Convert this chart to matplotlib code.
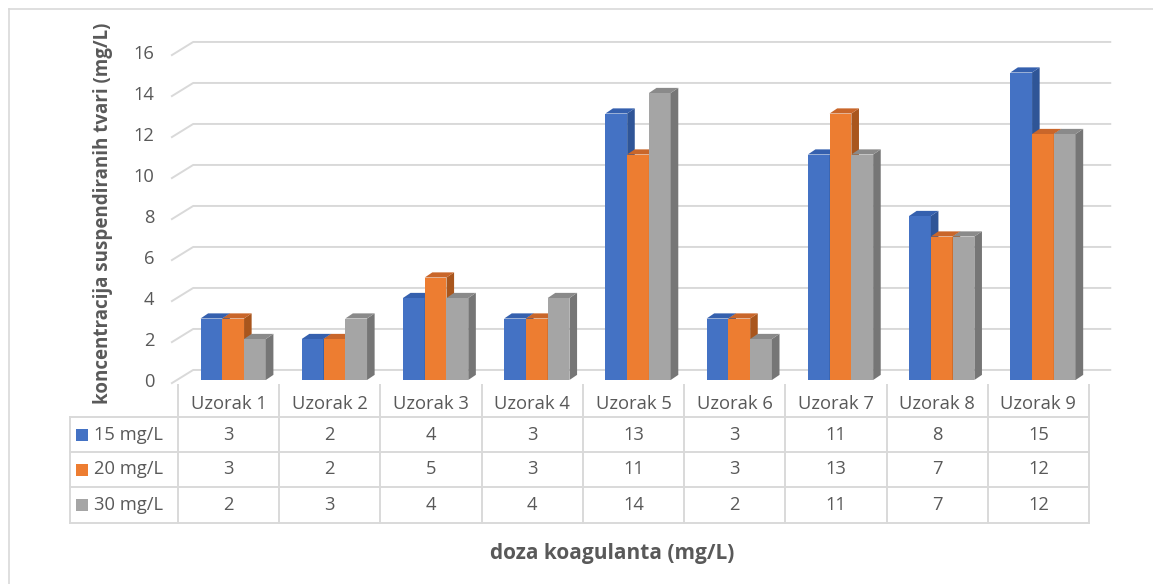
import numpy as np
import matplotlib
matplotlib.use("Agg")
import matplotlib.pyplot as plt
from matplotlib.patches import Polygon, Rectangle
from matplotlib.lines import Line2D
from matplotlib.transforms import blended_transform_factory

# data
categories = ["Uzorak 1", "Uzorak 2", "Uzorak 3", "Uzorak 4", "Uzorak 5",
              "Uzorak 6", "Uzorak 7", "Uzorak 8", "Uzorak 9"]
series_names = ["15 mg/L", "20 mg/L", "30 mg/L"]
dose_15 = [3, 2, 4, 3, 13, 3, 11, 8, 15]
dose_20 = [3, 2, 5, 3, 11, 3, 13, 7, 12]
dose_30 = [2, 3, 4, 4, 14, 2, 11, 7, 12]
y_ticks = [0, 2, 4, 6, 8, 10, 12, 14, 16]

front_colors = ["#4472C4", "#ED7D31", "#A5A5A5"]
side_colors = ["#2F5597", "#A9561D", "#767676"]
top_colors = ["#3560AE", "#C9662A", "#8A8A8A"]
grid_color = "#D9D9D9"
text_color = "#595959"

plt.rcParams["font.family"] = ["Open Sans", "DejaVu Sans"]
fs = 13.2

W, H = 1153, 584
fig = plt.figure(figsize=(W / 100, H / 100), dpi=100)

def fx(px):
    return px / W

def fy(px):
    return 1 - px / H

ax = fig.add_axes([fx(178), fy(380), (1089 - 178) / W, (380 - 52) / H])
ax.set_xlim(-0.5, 8.5)
ax.set_ylim(0, 16)
ax.set_facecolor("none")
for s in ax.spines.values():
    s.set_visible(False)

# back wall gridlines + left diagonals
back_x0, back_x1, back_dy = -0.35, 8.71, 0.49
front_x, front_dy = -0.56, -0.15
for v in y_ticks:
    ax.plot([front_x, back_x0, back_x1], [v + front_dy, v + back_dy, v + back_dy],
            color=grid_color, lw=1.4, clip_on=False, zorder=1)

# pseudo 3d bars
series = [dose_15, dose_20, dose_30]
x = np.arange(len(categories))
bw, shift = 0.215, 0.045
ddx, ddy = 0.075, 0.25
for k, vals in enumerate(series):
    lefts = x + shift + (k - 1.5) * bw
    ax.bar(lefts, vals, width=bw, align="edge", color=front_colors[k],
           linewidth=0, zorder=2 + 2 * k)
    for left, v in zip(lefts, vals):
        side = [(left + bw, 0), (left + bw + ddx, ddy),
                (left + bw + ddx, v + ddy), (left + bw, v)]
        top = [(left, v), (left + ddx, v + ddy),
               (left + bw + ddx, v + ddy), (left + bw, v)]
        ax.add_patch(Polygon(side, closed=True, facecolor=side_colors[k],
                             lw=0, zorder=3 + 2 * k))
        ax.add_patch(Polygon(top, closed=True, facecolor=top_colors[k],
                             lw=0, zorder=3 + 2 * k))

ax.set_yticks(y_ticks)
ax.tick_params(axis="y", length=0, pad=17, labelsize=fs, labelcolor=text_color)
ax.set_xticks(x, categories)
ax.tick_params(axis="x", length=0, pad=10.5, labelsize=fs, labelcolor=text_color)

# data table
tr = blended_transform_factory(ax.transData, fig.transFigure)
x_right = ax.transData.transform((8.5, 0))[0] / W
rows = [417, 452, 487, 523]
for r in rows:
    fig.add_artist(Line2D([fx(70), x_right], [fy(r), fy(r)], color=grid_color, lw=1.4))
for b in np.arange(len(categories) + 1) - 0.5:
    fig.add_artist(Line2D([b, b], [fy(385), fy(523)], color=grid_color, lw=1.4,
                          transform=tr))
fig.add_artist(Line2D([fx(70), fx(70)], [fy(417), fy(523)], color=grid_color, lw=1.4))

for k, (name, vals) in enumerate(zip(series_names, series)):
    yc = (rows[k] + rows[k + 1]) / 2
    fig.add_artist(Rectangle((fx(76), fy(yc + 6)), 12 / W, 12 / H,
                             transform=fig.transFigure, facecolor=front_colors[k], lw=0))
    fig.text(fx(94), fy(yc), name, ha="left", va="center", fontsize=fs,
             color=text_color)
    for i, v in enumerate(vals):
        ax.text(x[i], fy(yc), str(v), transform=tr, ha="center", va="center",
                fontsize=fs, color=text_color)

# axis titles
fig.text(fx(103), fy(213), "koncentracija suspendiranih tvari (mg/L)", rotation=90,
         ha="center", va="center", fontsize=13.5, fontweight="bold", color=text_color)
fig.text(fx(612), fy(553), "doza koagulanta (mg/L)", ha="center", va="center",
         fontsize=15, fontweight="bold", color=text_color)

# chart area frame (only top and left visible)
fig.add_artist(Line2D([fx(9), 1], [fy(9), fy(9)], color=grid_color, lw=1.2))
fig.add_artist(Line2D([fx(9), fx(9)], [fy(9), 0], color=grid_color, lw=1.2))

fig.savefig("out.png", dpi=100)
